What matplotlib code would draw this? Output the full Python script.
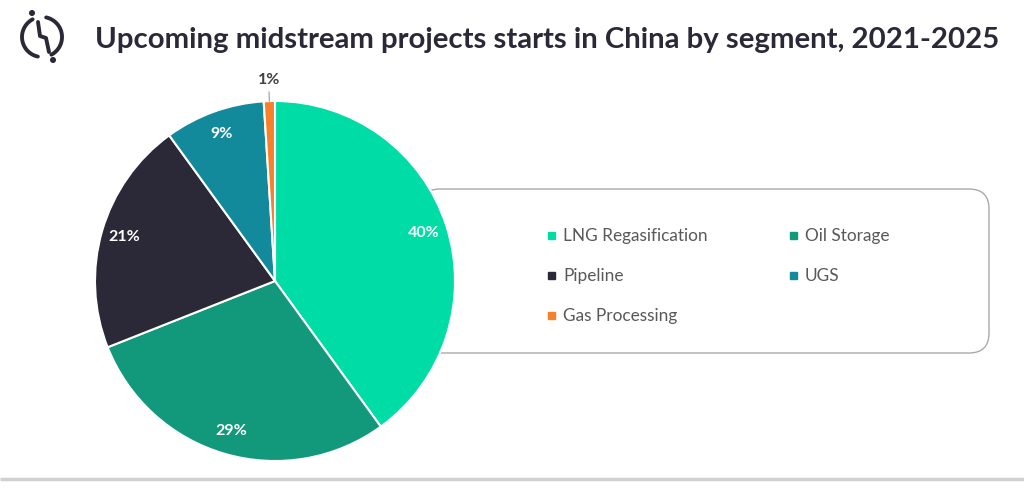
import numpy as np
import matplotlib
matplotlib.use("Agg")
from matplotlib import pyplot as plt
from matplotlib.patches import FancyBboxPatch, Circle

segments = ["LNG Regasification", "Oil Storage", "Pipeline", "UGS", "Gas Processing"]
shares = [40, 29, 21, 9, 1]
colors = ["#00DCA5", "#12987A", "#2B2838", "#128A9C", "#F5822A"]
title = "Upcoming midstream projects starts in China by segment, 2021-2025"

plt.rcParams['font.family'] = ['Lato', 'DejaVu Sans']

fig = plt.figure(figsize=(10.24, 4.88), dpi=100)

# background layer in pixel coords
bg = fig.add_axes([0, 0, 1, 1], zorder=0)
bg.set_xlim(0, 1024)
bg.set_ylim(488, 0)
bg.axis('off')

# legend frame
box = FancyBboxPatch((420, 189), 569, 164, boxstyle="round,pad=0,rounding_size=20",
                     facecolor='white', edgecolor='#AAAAAA', linewidth=1.0)
bg.add_patch(box)

# bottom rule
bg.plot([0, 1024], [479, 479], color='#D0D0D0', lw=2.5, solid_capstyle='butt')

# title
bg.text(95, 40, title, fontsize=21.2, fontweight='bold', color='#2B2838',
        va='center', ha='left')

# logo
dark = '#2B2838'
cx, cy, rad = 42, 37, 20
t = np.deg2rad(np.linspace(118, 258, 60))
bg.plot(cx + rad * np.cos(t), cy - rad * np.sin(t), color=dark, lw=2.8, solid_capstyle='round')
t = np.deg2rad(np.linspace(-62, 78, 60))
bg.plot(cx + rad * np.cos(t), cy - rad * np.sin(t), color=dark, lw=2.8, solid_capstyle='round')
bg.plot([38, 40, 46, 49], [22, 36, 38, 52], color=dark, lw=2.8, solid_capstyle='round')
bg.add_patch(Circle((32, 13), 2.3, color=dark))
bg.add_patch(Circle((53, 60), 2.3, color=dark))

# legend entries
pos = [(551, 235), (793, 235), (551, 275), (793, 275), (551, 315)]
for (x, y), name, c in zip(pos, segments, colors):
    bg.add_patch(plt.Rectangle((x - 3.5, y - 3.5), 7, 7, color=c))
    bg.text(x + 12, y + 1, name, fontsize=12.4, color='#595959', va='center', ha='left')

# pie
ax = fig.add_axes([95 / 1024, 27 / 488, 360 / 1024, 360 / 488], zorder=1)
wedges, _ = ax.pie(shares, colors=colors, startangle=90, counterclock=False,
                   wedgeprops=dict(edgecolor='white', linewidth=1.5))
ax.set_xlim(-1, 1)
ax.set_ylim(-1, 1)
ax.set_aspect('equal')

for w, v in zip(wedges, shares):
    ang = np.deg2rad((w.theta1 + w.theta2) / 2)
    if v >= 5:
        r = 0.87
        ax.text(r * np.cos(ang), r * np.sin(ang), f"{v}%", color='white',
                fontsize=11.5, fontweight='bold', ha='center', va='center')
    else:
        ax.plot([np.cos(ang), 1.05 * np.cos(ang)], [np.sin(ang), 1.05 * np.sin(ang)],
                color='#999999', lw=0.8, clip_on=False)
        ax.text(1.08 * np.cos(ang), 1.08 * np.sin(ang), f"{v}%", color='#404040',
                fontsize=11.5, fontweight='bold', ha='center', va='bottom')

fig.savefig("out.png", dpi=100)
